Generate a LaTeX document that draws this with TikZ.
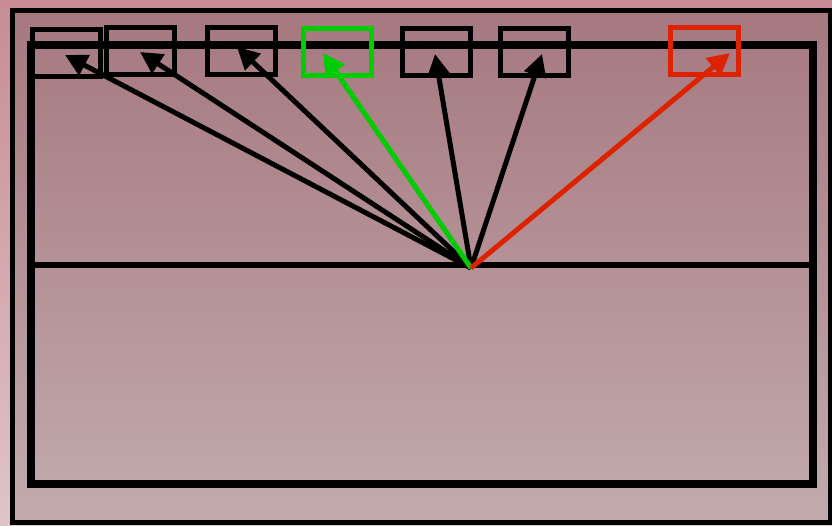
\documentclass[tikz,border=0pt]{standalone}
\usetikzlibrary{arrows.meta}
\definecolor{bgtop}{HTML}{C88C94}
\definecolor{bgbot}{HTML}{E0C4C8}
\definecolor{intop}{HTML}{A67880}
\definecolor{inbot}{HTML}{C2ABAD}
\definecolor{grn}{HTML}{00CC00}
\definecolor{rd}{HTML}{DD2200}
\begin{document}
\begin{tikzpicture}[x=1pt,y=-1pt,
  box/.style={draw, line width=5pt, minimum width=68pt, minimum height=47pt, inner sep=0pt},
  arr/.style={line width=5pt, -{Triangle[length=22pt,width=22pt]}}]
\shade[top color=bgtop,bottom color=bgbot] (0,0) rectangle (832,525);
\useasboundingbox (0,0) rectangle (832,525);
% outer frame
\path[draw=black, line width=5pt, top color=intop, bottom color=inbot] (12.5,10) rectangle (830,522);
% inner frame
\draw[line width=8.5pt] (31,45) rectangle (813,484);
\coordinate (hl) at (31,265);
\coordinate (hr) at (813,265);
\draw[line width=6pt] (hl) -- (hr);
% boxes
\node[box] (b1) at (66,53) {};
\node[box] (b2) at (140,51) {};
\node[box] (b3) at (241,51) {};
\node[box, draw=grn] (b4) at (337.5,51.5) {};
\node[box] (b5) at (436,52) {};
\node[box] (b6) at (534.5,52) {};
\node[box, draw=rd] (b7) at (704.5,51) {};
% hub and tips
\coordinate (hub) at (471,268);
\coordinate (t1) at (65,55);
\coordinate (t2) at (140,52);
\coordinate (t3) at (237,47);
\coordinate (t4) at (323,53);
\coordinate (t5) at (435,54);
\coordinate (t6) at (542,54);
\coordinate (t7) at (730,53);
\draw[arr] (hub) -- (t1);
\draw[arr] (hub) -- (t2);
\draw[arr] (hub) -- (t3);
\draw[arr] (hub) -- (t5);
\draw[arr] (hub) -- (t6);
\draw[arr, grn] (hub) -- (t4);
\draw[arr, rd] (hub) -- (t7);
\end{tikzpicture}
\end{document}
